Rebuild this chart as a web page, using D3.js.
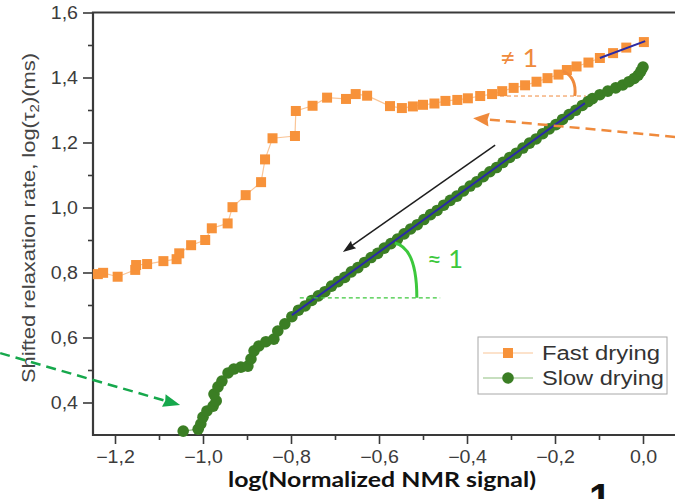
<!DOCTYPE html>
<html>
<head>
<meta charset="utf-8">
<script src="https://cdn.jsdelivr.net/npm/d3@7"></script>
<style>
    html, body { margin: 0; padding: 0; background: #fff; }
    svg { display: block; }
</style>
</head>
<body>
<div id="chart"></div>
<script>
// ---- data ----
const fastX = [-1.239, -1.227, -1.194, -1.154, -1.152, -1.127, -1.090, -1.060, -1.054, -1.027, -0.995, -0.980,
    -0.944, -0.933, -0.903, -0.868, -0.859, -0.842, -0.791, -0.789, -0.751, -0.718, -0.675, -0.653, -0.627,
    -0.575, -0.548, -0.523, -0.500, -0.474, -0.449, -0.422, -0.398, -0.370, -0.343, -0.320, -0.294, -0.268,
    -0.242, -0.217, -0.192, -0.173, -0.151, -0.124, -0.098, -0.068, -0.038, 0.002];
const fastY = [0.795, 0.799, 0.787, 0.808, 0.823, 0.826, 0.835, 0.841, 0.859, 0.884, 0.900, 0.936,
    0.951, 1.001, 1.038, 1.078, 1.148, 1.213, 1.220, 1.297, 1.313, 1.338, 1.334, 1.349, 1.344,
    1.312, 1.306, 1.311, 1.316, 1.320, 1.328, 1.331, 1.336, 1.343, 1.349, 1.358, 1.368, 1.376,
    1.387, 1.398, 1.409, 1.423, 1.434, 1.446, 1.460, 1.475, 1.492, 1.509];

const slowX = [-1.045, -1.011, -1.005, -1.000, -0.991, -0.977, -0.970, -0.975, -0.966, -0.957, -0.943, -0.930,
    -0.914, -0.898, -0.891, -0.884, -0.873, -0.857, -0.839, -0.830, -0.814, -0.798,
    -0.783, -0.768, -0.753, -0.738, -0.723, -0.708, -0.693, -0.678, -0.663, -0.648, -0.633, -0.618,
    -0.603, -0.588, -0.573, -0.558, -0.543, -0.528, -0.513, -0.498, -0.483, -0.468, -0.453, -0.438,
    -0.423, -0.408, -0.393, -0.378, -0.363, -0.348, -0.333, -0.318, -0.303, -0.288, -0.273, -0.258,
    -0.243, -0.228, -0.213, -0.198, -0.183, -0.168, -0.153, -0.138, -0.125,
    -0.115, -0.098, -0.080, -0.062, -0.046, -0.032, -0.020, -0.011, -0.005, 0.000];
const slowY = [0.312, 0.318, 0.334, 0.355, 0.374, 0.389, 0.405, 0.426, 0.448, 0.466, 0.491, 0.503,
    0.509, 0.512, 0.534, 0.559, 0.574, 0.587, 0.595, 0.620, 0.642, 0.664,
    0.684, 0.697, 0.714, 0.728, 0.741, 0.758, 0.772, 0.785, 0.802, 0.815, 0.831, 0.846,
    0.859, 0.875, 0.889, 0.903, 0.919, 0.934, 0.947, 0.963, 0.978, 0.991, 1.007, 1.022,
    1.035, 1.051, 1.066, 1.079, 1.095, 1.110, 1.123, 1.139, 1.154, 1.167, 1.183, 1.198,
    1.211, 1.227, 1.242, 1.255, 1.271, 1.286, 1.299, 1.314, 1.326,
    1.335, 1.347, 1.358, 1.368, 1.377, 1.387, 1.397, 1.407, 1.419, 1.432];

// linear fits (endpoints)
const slowFit = [[-0.798, 0.669], [-0.132, 1.321]];
const fastFit = [[-0.098, 1.460], [0.005, 1.512]];

const xTickValues = [-1.2, -1.0, -0.8, -0.6, -0.4, -0.2, 0.0];
const xMinorValues = [-1.1, -0.9, -0.7, -0.5, -0.3, -0.1];
const yTickValues = [0.4, 0.6, 0.8, 1.0, 1.2, 1.4, 1.6];
const yMinorValues = [0.5, 0.7, 0.9, 1.1, 1.3, 1.5];
const seriesNames = ["Fast drying", "Slow drying"];

// ---- svg config ----
const width = 675, height = 499;
const orange = "#f7923a", green = "#3b7e24", blue = "#2b2ba6";
const annOrange = "#ef8a3c", annGreen = "#3cc83c", arrowGreen = "#16a84c";
const axisColor = "#3a3a3a", labelColor = "#3c3c3c";

const svg = d3.select("#chart").append("svg")
    .attr("width", width)
    .attr("height", height)
    .attr("viewBox", [0, 0, width, height]);

const x = d3.scaleLinear().domain([-1.25, 0.075]).range([93, 676]);
const y = d3.scaleLinear().domain([0.3, 1.6]).range([435, 12.5]);

// stretch text horizontally (the source fonts are wider)
function stretch(sel, k) {
    sel.each(function () {
        const w = this.getComputedTextLength();
        d3.select(this).attr("textLength", w * k).attr("lengthAdjust", "spacingAndGlyphs");
    });
}

const fmt = d => d3.format(".1f")(d).replace(".", ",");

// ---- axes ----
svg.append("g")
    .attr("transform", `translate(0, ${y(0.3)})`)
    .call(d3.axisBottom(x).tickValues(xTickValues).tickSize(9).tickPadding(7).tickFormat(fmt));
svg.append("g")
    .attr("transform", `translate(0, ${y(0.3)})`)
    .call(d3.axisBottom(x).tickValues(xMinorValues).tickSize(5).tickFormat(""));

svg.append("g")
    .attr("transform", `translate(${x(-1.25)}, 0)`)
    .call(d3.axisLeft(y).tickValues(yTickValues).tickSize(10).tickPadding(5).tickFormat(fmt));
svg.append("g")
    .attr("transform", `translate(${x(-1.25)}, 0)`)
    .call(d3.axisLeft(y).tickValues(yMinorValues).tickSize(5).tickFormat(""));

svg.selectAll(".domain").remove();
svg.selectAll(".tick line").attr("stroke", axisColor).attr("stroke-width", 1.6);
svg.selectAll(".tick text")
    .attr("fill", labelColor)
    .style("font-family", "'Liberation Sans', Arial, sans-serif")
    .style("font-size", "17.5px");
stretch(svg.selectAll(".tick text"), 1.12);

// frame lines: bottom, left, top
svg.append("path")
    .attr("d", `M${width},${y(1.6)}H${x(-1.25)}V${y(0.3)}H${width}`)
    .attr("fill", "none")
    .attr("stroke", axisColor)
    .attr("stroke-width", 2.2);

// axis titles
const yTitle = svg.append("text")
    .attr("transform", `translate(35, 218) rotate(-90)`)
    .attr("text-anchor", "middle")
    .attr("fill", "#454545")
    .style("font-family", "'Liberation Sans', Arial, sans-serif")
    .style("font-size", "19px");
yTitle.append("tspan").text("Shifted relaxation rate, log(τ");
yTitle.append("tspan").attr("dy", 4).style("font-size", "13px").text("2");
yTitle.append("tspan").attr("dy", -4).text(")(ms)");
yTitle.attr("textLength", 330).attr("lengthAdjust", "spacingAndGlyphs");

svg.append("text")
    .attr("x", 382)
    .attr("y", 487)
    .attr("text-anchor", "middle")
    .attr("fill", "#111")
    .style("font-family", "Lato, 'Open Sans', sans-serif")
    .style("font-weight", "bold")
    .style("font-size", "20px")
    .attr("textLength", 308)
    .attr("lengthAdjust", "spacingAndGlyphs")
    .text("log(Normalized NMR signal)");

svg.append("text")
    .attr("x", 600)
    .attr("y", 512)
    .attr("text-anchor", "middle")
    .attr("fill", "#111")
    .style("font-family", "'Liberation Sans', Arial, sans-serif")
    .style("font-weight", "bold")
    .style("font-size", "40px")
    .text("1");

// ---- series ----
const fastData = fastX.map((d, i) => ({ x: d, y: fastY[i] }));
const slowData = slowX.map((d, i) => ({ x: d, y: slowY[i] }));
const line = d3.line().x(d => x(d.x)).y(d => y(d.y));

svg.append("path")
    .datum(fastData)
    .attr("d", line)
    .attr("fill", "none")
    .attr("stroke", "#fac597")
    .attr("stroke-width", 1.2);

svg.selectAll("rect.fast")
    .data(fastData)
    .enter().append("rect")
    .attr("class", "fast")
    .attr("x", d => x(d.x) - 5)
    .attr("y", d => y(d.y) - 5)
    .attr("width", 10)
    .attr("height", 10)
    .attr("fill", orange);

svg.append("path")
    .datum(slowData)
    .attr("d", line)
    .attr("fill", "none")
    .attr("stroke", "#8fbf80")
    .attr("stroke-width", 1.2);

svg.selectAll("circle.slow")
    .data(slowData)
    .enter().append("circle")
    .attr("class", "slow")
    .attr("cx", d => x(d.x))
    .attr("cy", d => y(d.y))
    .attr("r", 5.8)
    .attr("fill", green);

// fit lines
[slowFit, fastFit].forEach(f => {
    svg.append("line")
        .attr("x1", x(f[0][0])).attr("y1", y(f[0][1]))
        .attr("x2", x(f[1][0])).attr("y2", y(f[1][1]))
        .attr("stroke", blue)
        .attr("stroke-width", 2);
});

// ---- annotations ----
function arrow(x1, y1, x2, y2, len, wid, color, sw, dash) {
    const px1 = x(x1), py1 = y(y1), px2 = x(x2), py2 = y(y2);
    const a = Math.atan2(py2 - py1, px2 - px1);
    const bx = px2 - len * Math.cos(a), by = py2 - len * Math.sin(a);
    svg.append("line")
        .attr("x1", px1).attr("y1", py1)
        .attr("x2", bx + 2 * Math.cos(a)).attr("y2", by + 2 * Math.sin(a))
        .attr("stroke", color)
        .attr("stroke-width", sw)
        .attr("stroke-dasharray", dash || null);
    const nx = -Math.sin(a) * wid / 2, ny = Math.cos(a) * wid / 2;
    svg.append("path")
        .attr("d", `M${px2},${py2}L${bx + nx},${by + ny}L${bx + 1.5 * Math.cos(a)},${by + 1.5 * Math.sin(a)}L${bx - nx},${by - ny}Z`)
        .attr("fill", color);
}

// orange slope marker
svg.append("line")
    .attr("x1", x(-0.325)).attr("y1", y(1.343))
    .attr("x2", x(-0.13)).attr("y2", y(1.343))
    .attr("stroke", annOrange)
    .attr("stroke-width", 1)
    .attr("stroke-dasharray", "4,3");
svg.append("path")
    .attr("d", `M${x(-0.182)},${y(1.420)}Q${x(-0.150)},${y(1.400)} ${x(-0.155)},${y(1.343)}`)
    .attr("fill", "none")
    .attr("stroke", annOrange)
    .attr("stroke-width", 3);
svg.append("text")
    .attr("x", x(-0.325)).attr("y", 67)
    .attr("fill", annOrange)
    .style("font-family", "Lato, 'Open Sans', sans-serif")
    .style("font-size", "25px")
    .attr("textLength", 38)
    .attr("lengthAdjust", "spacingAndGlyphs")
    .text("≠ 1");

// green slope marker
svg.append("line")
    .attr("x1", x(-0.780)).attr("y1", y(0.722))
    .attr("x2", x(-0.461)).attr("y2", y(0.722))
    .attr("stroke", annGreen)
    .attr("stroke-width", 1.3)
    .attr("stroke-dasharray", "4,3");
svg.append("path")
    .attr("d", `M${x(-0.564)},${y(0.891)}Q${x(-0.514)},${y(0.875)} ${x(-0.514)},${y(0.722)}`)
    .attr("fill", "none")
    .attr("stroke", annGreen)
    .attr("stroke-width", 3);
svg.append("text")
    .attr("x", 427).attr("y", 268)
    .attr("fill", annGreen)
    .style("font-family", "Lato, 'Open Sans', sans-serif")
    .style("font-size", "25px")
    .attr("textLength", 36)
    .attr("lengthAdjust", "spacingAndGlyphs")
    .text("≈ 1");

// arrows
arrow(-0.336, 1.192, -0.682, 0.863, 13, 9, "#1e1e1e", 1.5);
arrow(0.073, 1.217, -0.386, 1.275, 16, 14, annOrange, 2.5, "10,6");
arrow(-1.461, 0.552, -1.052, 0.392, 17, 13, arrowGreen, 2.5, "10,6");

// ---- legend ----
const legend = svg.append("g").attr("transform", "translate(478, 337)");
legend.append("rect")
    .attr("width", 189)
    .attr("height", 57)
    .attr("fill", "#fff")
    .attr("stroke", "#a8a8a8")
    .attr("stroke-width", 1);

const items = legend.selectAll("g.legend-item")
    .data(seriesNames)
    .enter().append("g")
    .attr("class", "legend-item")
    .attr("transform", (d, i) => `translate(0, ${16 + i * 25})`);

items.append("line")
    .attr("x1", 5).attr("x2", 55)
    .attr("stroke", (d, i) => i === 0 ? "#fac597" : "#8fbf80")
    .attr("stroke-width", 1.2);
items.filter((d, i) => i === 0).append("rect")
    .attr("x", 25).attr("y", -5).attr("width", 10).attr("height", 10)
    .attr("fill", orange);
items.filter((d, i) => i === 1).append("circle")
    .attr("cx", 30).attr("r", 5.8)
    .attr("fill", green);
items.append("text")
    .attr("x", 64)
    .attr("y", 7)
    .attr("fill", "#333")
    .style("font-family", "'Liberation Sans', Arial, sans-serif")
    .style("font-size", "19.5px")
    .attr("textLength", (d, i) => i === 0 ? 118 : 122)
    .attr("lengthAdjust", "spacingAndGlyphs")
    .text(d => d);
</script>
</body>
</html>
